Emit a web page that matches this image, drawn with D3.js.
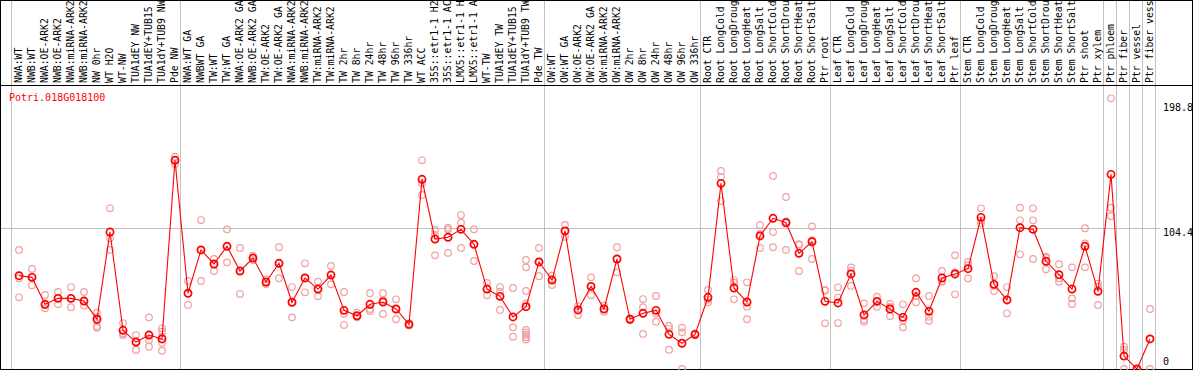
<!DOCTYPE html>
<html><head><meta charset="utf-8">
<script src="https://cdn.jsdelivr.net/npm/d3@7"></script>
<style>
body{margin:0;background:#fff}
svg{display:block}
text{font-family:"DejaVu Sans Mono",monospace;font-size:10px}
text.cat{font-size:9.8px}
</style>
</head><body><svg id="c" width="1194" height="370"></svg>
<script>
const title = "Potri.018G018100";
const categories = ["NWA:WT","NWB:WT","NWA:OE-ARK2","NWB:OE-ARK2","NWA:miRNA-ARK2","NWB:miRNA-ARK2","NW 0hr","WT H2O","WT-NW","TUA1dEY NW","TUA1dEY+TUB15","TUA1dY+TUB9 NW","Pde NW",
"NWA:WT GA","NWBWT GA","TW:WT","TW:WT GA","NWA:OE-ARK2 GA","NWB:OE-ARK2 GA","TW:OE-ARK2","TW:OE-ARK2 GA","NWA:miRNA-ARK2","NWB:miRNA-ARK2","TW:miRNA-ARK2","TW:miRNA-ARK2","TW 2hr","TW 8hr","TW 24hr","TW 48hr","TW 96hr","TW 336hr","WT ACC","35S::etr1-1 H2","35S::etr1-1 AC","LMX5::etr1-1 H","LMX5::etr1-1 A","WT-TW","TUA1dEY TW","TUA1dEY+TUB15","TUA1dY+TUB9 TW","Pde TW",
"OW:WT","OW:WT GA","OW:OE-ARK2","OW:OE-ARK2 GA","OW:miRNA-ARK2","OW:miRNA-ARK2","OW 2hr","OW 8hr","OW 24hr","OW 48hr","OW 96hr","OW 336hr",
"Root CTR","Root LongCold","Root LongDroug","Root LongHeat","Root LongSalt","Root ShortCold","Root ShortDrou","Root ShortHeat","Root ShortSalt","Ptr root",
"Leaf CTR","Leaf LongCold","Leaf LongDroug","Leaf LongHeat","Leaf LongSalt","Leaf ShortCold","Leaf ShortDrou","Leaf ShortHeat","Leaf ShortSalt","Ptr leaf",
"Stem CTR","Stem LongCold","Stem LongDroug","Stem LongHeat","Stem LongSalt","Stem ShortCold","Stem ShortDrou","Stem ShortHeat","Stem ShortSalt","Ptr shoot",
"Ptr xylem","Ptr phloem","Ptr fiber","Ptr vessel","Ptr fiber vess"];

const means = [69.2,68.0,48.0,52.4,52.4,50.4,36.9,101.6,28.7,20.0,25.2,22.3,154.8,
56.2,88.3,77.9,91.0,72.7,82.3,64.5,78.4,49.5,67.5,59.3,69.7,43.5,39.5,48.0,49.7,44.5,33.1,140.7,96.4,97.7,103.6,92.5,59.3,53.9,38.6,46.2,79.4,
66.0,102.4,43.8,61.3,44.5,81.6,36.9,41.3,43.5,25.7,19.1,25.7,
53.2,137.7,60.1,49.7,98.7,111.8,108.5,85.8,94.4,50.2,
49.0,70.5,40.1,50.2,44.5,38.3,56.9,42.8,67.5,70.5,
74.4,112.5,62.8,51.2,104.8,103.6,79.9,70.0,59.3,91.0,
57.6,144.4,9.6,0,22.3];

const replicates = [
[88.3,67.3,53.2],[74.2,68.2,62.1],[54.9,47.5,45.0],[57.1,52.4,48.0],[60.8,52.4,45.8],[57.1,50.2,47.0],
[41.8,38.5,31.7,30.6],[119.2,97.0,88.3],[34.1,26.5,25.2],[25.2,20.0,14.1],[38.3,25.2,21.5,16.5],
[30.2,27.7,24.0,19.5,13.6],[157.5,155.0,152.0],
[65.3,56.0,47.5],[110.5,88.3,65.3],[81.6,77.5,72.7],[103.6,91.0,79.1],[89.8,72.7,55.6],[84.0,82.3,80.8],
[66.5,64.5,63.0],[90.3,78.4,67.3],[60.8,49.5,38.3],[78.4,67.5,56.9],[64.8,59.3,53.9],[76.4,69.7,62.8],
[57.1,41.0,32.6],[41.8,39.5,38.3],[56.2,44.5,43.0],[56.2,51.0,40.8],[51.7,44.5,36.9],[34.0,33.1,32.3],
[154.8,137.7,129.1],[103.1,99.5,84.3],[104.8,103.6,86.1],[114.2,108.5,89.8],[103.6,92.5,80.1],
[63.8,59.3,54.7],[60.8,57.3,43.8],[60.1,30.9,24.0],[80.9,75.4,57.9,48.7,29.0,27.2,25.4,23.6,21.8],[89.8,79.4,68.8],
[69.2,66.0,62.3],[106.8,102.4,98.1],[46.7,43.8,40.1],[68.0,61.3,54.7],[47.0,44.5,42.5],[90.3,81.6,71.7],
[37.5,36.9,36.3],[51.9,45.8,26.0],[54.2,41.3,35.1],[31.9,30.0,14.3],[30.6,27.2,0],[26.5,25.7,25.0],
[58.6,51.5,49.5],[146.9,142.4,124.6],[66.0,64.0,51.7],[64.3,46.2,36.9],[106.8,100.0,89.8],[143.2,101.6,90.3],
[127.6,109.5,88.3],[92.7,92.0,72.7],[105.8,95.5,81.6],[58.6,58.0,33.9],
[60.6,53.0,34.1],[75.4,73.0,61.6],[48.7,36.5,35.1],[53.6,50.2,46.2],[48.2,46.0,39.3],[48.0,36.0,30.9],
[67.3,54.0,49.5],[54.2,38.8,35.8],[72.7,65.0,64.8],[84.3,71.7,55.4],
[79.4,77.0,67.3],[119.2,110.2,108.1],[68.8,61.7,57.9],[60.8,51.5,41.3],[119.7,110.3,85.1],[119.2,110.3,81.6],
[83.3,82.4,74.0],[77.7,67.3,64.8],[75.4,52.4,48.2],[104.4,93.2,75.4],
[63.3,61.0,47.5],[200.8,119.7,113.5],[16.5,14.1,0],[0,0,0],[44.5,22.4,0]];

const tickValues = [198.8, 104.4, 0];
const gridValues = [104.4];
const groupBreaks = [0,13,41,53,63,73,84,85,86,87,88];

const W = 1194, H = 370;
const frameRight = 1192, plotTop = 85, plotBottom = 369, labelBase = 83;
const n = categories.length;
const x = d3.scaleBand().domain(d3.range(n)).range([11, 11 + 13 * n]);
const y = d3.scaleLinear().domain([0, 198.8]).range([369, 101]);
const px = i => x(i) + 8;
const edge = k => k < n ? x(k) : x.range()[1];

const svg = d3.select("#c");

// group dividers
svg.append("g").selectAll("line").data(groupBreaks).join("line")
  .attr("x1", k => Math.round(edge(k)) + 0.5).attr("x2", k => Math.round(edge(k)) + 0.5)
  .attr("y1", 0).attr("y2", plotBottom)
  .attr("stroke", "#c0c0c0").attr("stroke-width", 1).attr("shape-rendering", "crispEdges");

// horizontal grid
svg.append("g").selectAll("line").data(gridValues).join("line")
  .attr("x1", 0).attr("x2", 1160)
  .attr("y1", d => Math.round(y(d)) + 0.5).attr("y2", d => Math.round(y(d)) + 0.5)
  .attr("stroke", "#c0c0c0").attr("shape-rendering", "crispEdges");

// category labels
svg.append("g").selectAll("text").data(categories).join("text")
  .attr("class", "cat")
  .attr("transform", (d, i) => `translate(${x(i) + 11},${labelBase}) rotate(-90)`)
  .attr("fill", "#000").text(d => d);

// frame
svg.append("rect").attr("x", 0.5).attr("y", 0.5).attr("width", frameRight).attr("height", plotBottom)
  .attr("fill", "none").attr("stroke", "#000").attr("shape-rendering", "crispEdges");
svg.append("line").attr("x1", 0).attr("x2", frameRight + 1).attr("y1", plotTop + 0.5).attr("y2", plotTop + 0.5)
  .attr("stroke", "#000").attr("shape-rendering", "crispEdges");

// title
svg.append("text").attr("x", 9).attr("y", 101).attr("fill", "#ff0000").text(title);

// y tick labels (right)
svg.append("g").selectAll("text").data(tickValues).join("text")
  .attr("x", 1163)
  .attr("y", d => Math.min(y(d) + 7.5, plotBottom - 4) + (d === 198.8 ? 2.5 : 0))
  .attr("fill", "#000").text(d => d);

// replicate points
const repPts = replicates.flatMap((arr, i) => arr.map(v => ({i, v})));
svg.append("g").selectAll("circle").data(repPts).join("circle")
  .attr("cx", d => px(d.i)).attr("cy", d => y(d.v)).attr("r", 3.3)
  .attr("fill", "none").attr("stroke", "#f0a0a0").attr("stroke-width", 1.2);

// mean line
svg.append("path").datum(means)
  .attr("d", d3.line().x((d, i) => px(i)).y(d => y(d)))
  .attr("fill", "none").attr("stroke", "#ff0000").attr("stroke-width", 1.1);

// mean points
svg.append("g").selectAll("circle").data(means).join("circle")
  .attr("cx", (d, i) => px(i)).attr("cy", d => y(d)).attr("r", 3.6)
  .attr("fill", "none").attr("stroke", "#ff0000").attr("stroke-width", 1.7);
</script>
</body></html>
